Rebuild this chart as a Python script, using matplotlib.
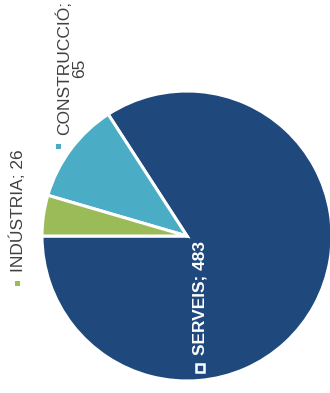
import matplotlib.pyplot as plt
from matplotlib.patches import Rectangle

# sectors, in drawing order (counter-clockwise from 9 o'clock)
sectors = ['SERVEIS', 'CONSTRUCCIÓ', 'INDÚSTRIA']
values = [483, 65, 26]
colors = ['#1F497D', '#4BACC6', '#9BBB59']

W, H = 330, 393
fig = plt.figure(figsize=(W / 100, H / 100), dpi=100)
ax = fig.add_axes([0, 0, 1, 1])

cx, cy, r = 187, 236, 145
ax.pie(values, colors=colors, startangle=180, counterclock=False,
       center=(cx, cy), radius=r, frame=True,
       wedgeprops=dict(edgecolor='white', linewidth=2.2))
ax.set_xlim(0, W)
ax.set_ylim(H, 0)
ax.set_aspect('equal')
ax.axis('off')

font = ['Liberation Sans', 'DejaVu Sans']
grey = '#404040'

# data labels, rotated like the source chart
ax.text(71, 68, f'{sectors[1]};\n{values[1]}', rotation=90, ha='center', va='center',
        multialignment='center', fontsize=12.5, color=grey, family=font, linespacing=1.0)
ax.add_patch(Rectangle((55.5, 143.5), 5, 5, color=colors[1], lw=0))

ax.text(18, 211, f'{sectors[2]}; {values[2]}', rotation=90, ha='center', va='center',
        fontsize=12.5, color=grey, family=font)
ax.add_patch(Rectangle((14.5, 280.5), 5, 5, color=colors[2], lw=0))

ax.text(200, 298, f'{sectors[0]}; {values[0]}', rotation=90, ha='center', va='center',
        fontsize=12.5, color='white', weight='bold', family=font)
ax.add_patch(Rectangle((196, 364), 8, 8, facecolor=colors[0], edgecolor='white', lw=1.8))

fig.savefig('out.png', dpi=100)
